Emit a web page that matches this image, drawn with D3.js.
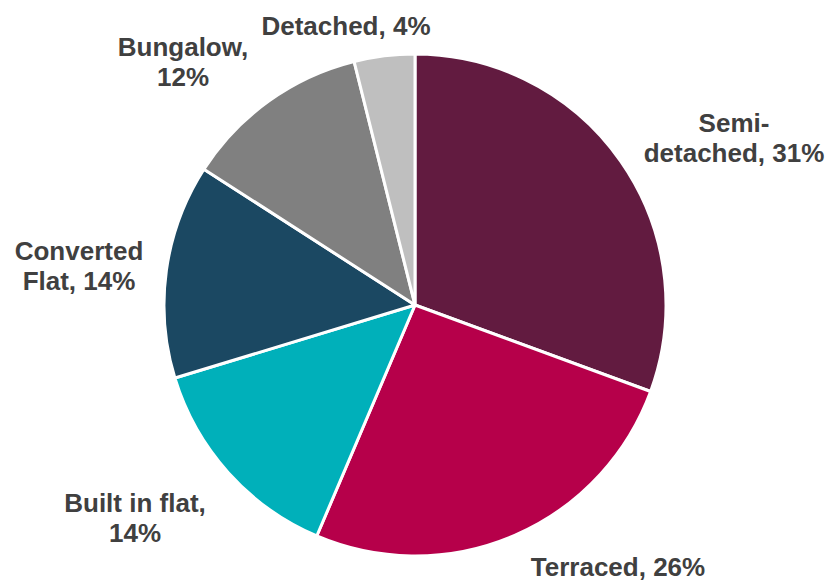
<!DOCTYPE html>
<html>
<head>
<meta charset="utf-8">
<script src="https://cdn.jsdelivr.net/npm/d3@7"></script>
<style>
  html, body { margin: 0; padding: 0; background: #fff; }
  svg { display: block; }
</style>
</head>
<body>
<svg id="chart" width="831" height="581"></svg>
<script>
// Dwelling type shares (percent), clockwise from 12 o'clock
const categories = ["Semi-detached", "Terraced", "Built in flat", "Converted Flat", "Bungalow", "Detached"];
const shares = [30.6, 25.8, 13.9, 13.8, 12.0, 3.9];
// Label text lines; the percentage is appended from the data
const labelLines = [["Semi-", "detached,"], ["Terraced,"], ["Built in flat,"], ["Converted", "Flat,"], ["Bungalow,"], ["Detached,"]];
const colors = ["#621b40", "#b6004a", "#00b0ba", "#1b4862", "#808080", "#bfbfbf"];

// Label anchor points (centre of the text block) and line layout
const labelAnchors = [[734, 138], [618, 567], [135, 518], [79, 266], [183, 62], [346, 26]];
// Whether the percentage goes on its own line
const pctOwnLine = [false, false, true, false, true, false];

const svg = d3.select("#chart");
const cx = 415, cy = 305, radius = 251;

const pie = d3.pie().sort(null).value(d => d.value);
const arc = d3.arc().innerRadius(0).outerRadius(radius);

const data = categories.map((c, i) => ({ name: c, value: shares[i], i }));
const arcs = pie(data);

const g = svg.append("g").attr("transform", `translate(${cx},${cy})`);

g.selectAll("path")
  .data(arcs)
  .join("path")
  .attr("d", arc)
  .attr("fill", d => colors[d.data.i])
  .attr("stroke", "#ffffff")
  .attr("stroke-width", 3)
  .attr("stroke-linejoin", "round");

const lineH = 30;
const labels = svg.append("g")
  .attr("font-family", "'Liberation Sans', Arial, sans-serif")
  .attr("font-weight", "bold")
  .attr("font-size", 26)
  .attr("fill", "#404040")
  .attr("text-anchor", "middle");

arcs.forEach(a => {
  const i = a.data.i;
  const pct = Math.round(a.data.value) + "%";
  const lines = labelLines[i].slice();
  if (pctOwnLine[i]) lines.push(pct);
  else lines[lines.length - 1] = lines[lines.length - 1] + " " + pct;
  const [ax, ay] = labelAnchors[i];
  const top = ay - (lines.length - 1) * lineH / 2;
  const t = labels.append("text")
    .attr("x", ax)
    .attr("y", top)
    .attr("dominant-baseline", "central");
  lines.forEach((ln, k) => {
    t.append("tspan")
      .attr("x", ax)
      .attr("y", top + k * lineH)
      .text(ln);
  });
});
</script>
</body>
</html>
